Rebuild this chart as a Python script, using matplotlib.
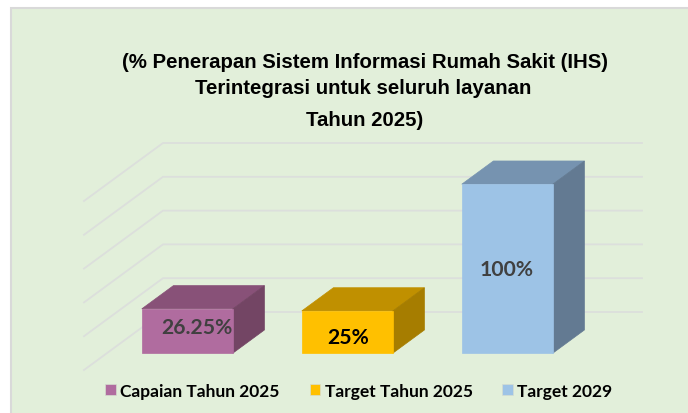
''' plot.py
3D style bar chart of hospital information system targets.
'''

import matplotlib
matplotlib.use('Agg')
import matplotlib.pyplot as plt
from matplotlib.patches import Patch, Polygon, Rectangle

labels = ['Capaian Tahun 2025', 'Target Tahun 2025', 'Target 2029']
values = [26.25, 25, 100]
value_text = ['26.25%', '25%', '100%']
grid_values = [0, 20, 40, 60, 80, 100]
title_lines = ['(% Penerapan Sistem Informasi Rumah Sakit (IHS)',
               'Terintegrasi untuk seluruh layanan',
               'Tahun 2025)']

front_colors = ['#B06C9F', '#FFC000', '#9DC3E6']
top_colors = ['#885178', '#C09000', '#7693B0']
side_colors = ['#734564', '#A67D00', '#637A92']
text_colors = ['#404040', '#000000', '#404040']

BG = '#E2EFDA'
W, H = 688, 414
X_UNIT = 160.0    # pixels per category
Y_UNIT = 1.69     # pixels per percent
ORIGIN = 164.4    # pixel x of category 0 on the front plane
BASE = 371        # pixel y of value 0 on the front plane
DX = 79 / X_UNIT  # full floor depth
DY = 58 / Y_UNIT
BAR_W = 91 / X_UNIT
D0, D1 = 0.29, 0.69  # bar depth range on the floor


def proj(x, y, d):
    '''Shift a point on the front plane back to depth d (0-1)'''
    return x + DX * d, y + DY * d


def px_x(x):
    return (x - ORIGIN) / X_UNIT


def px_y(y):
    return (BASE - y) / Y_UNIT


def draw_bar(ax, i, val):
    left = i - BAR_W / 2
    right = i + BAR_W / 2
    p = [proj(left, 0, D0), proj(right, 0, D0), proj(right, val, D0),
         proj(left, val, D0), proj(right, 0, D1), proj(right, val, D1),
         proj(left, val, D1)]
    ax.add_patch(Polygon([p[3], p[2], p[5], p[6]], fc=top_colors[i],
                         ec=top_colors[i], lw=0.5, zorder=3))
    ax.add_patch(Polygon([p[1], p[4], p[5], p[2]], fc=side_colors[i],
                         ec=side_colors[i], lw=0.5, zorder=3))
    ax.add_patch(Polygon([p[0], p[1], p[2], p[3]], fc=front_colors[i],
                         ec=front_colors[i], lw=0.5, zorder=4))


fig = plt.figure(figsize=(W / 100, H / 100), dpi=100, facecolor='white')
ax = fig.add_axes([0, 0, 1, 1])
ax.set_xlim(px_x(0), px_x(W))
ax.set_ylim(px_y(H), px_y(0))
ax.axis('off')

# panel background, only top and left edges show
ax.add_patch(Rectangle((px_x(10.5), px_y(H + 5)), 10, px_y(8.5) - px_y(H + 5),
                       fc=BG, ec='#D9D9D9', lw=1.5, zorder=0))

# floor and back wall gridlines
left_front = px_x(84)
right_back = px_x(642)
for g in grid_values:
    xb, yb = proj(left_front, g, 1)
    ax.plot([left_front, xb, right_back], [g, yb, yb], color='#DCDFDC',
            lw=1.3, zorder=1, solid_joinstyle='miter')

for i, val in enumerate(values):
    draw_bar(ax, i, val)

# value labels
label_x = [196.5, 348, 507]
label_y = [328, 338, 270]
for i, txt in enumerate(value_text):
    ax.text(px_x(label_x[i]), px_y(label_y[i]), txt,
            ha='center', va='center', fontsize=15.2, fontweight='bold',
            family='Lato', color=text_colors[i], zorder=5)

# title
title_y = [63, 89, 121]
title_x = [365, 363.5, 365]
for line, tx, ty in zip(title_lines, title_x, title_y):
    fig.text(tx / W, 1 - ty / H, line, ha='center', va='center', fontsize=14.7,
             fontweight='bold', family='Liberation Sans', color='black')

handles = [Patch(fc=c, ec='#D5DDD0', lw=0.5) for c in front_colors]
ax.legend(handles, labels, loc='center', bbox_to_anchor=(359 / W, 1 - 392 / H),
          bbox_transform=fig.transFigure, ncol=3, frameon=False, handlelength=0.58,
          handleheight=0.58, handletextpad=0.28, columnspacing=1.72,
          prop={'family': 'Lato', 'weight': 'bold', 'size': 12.5})

fig.savefig('out.png', dpi=100, facecolor='white')
